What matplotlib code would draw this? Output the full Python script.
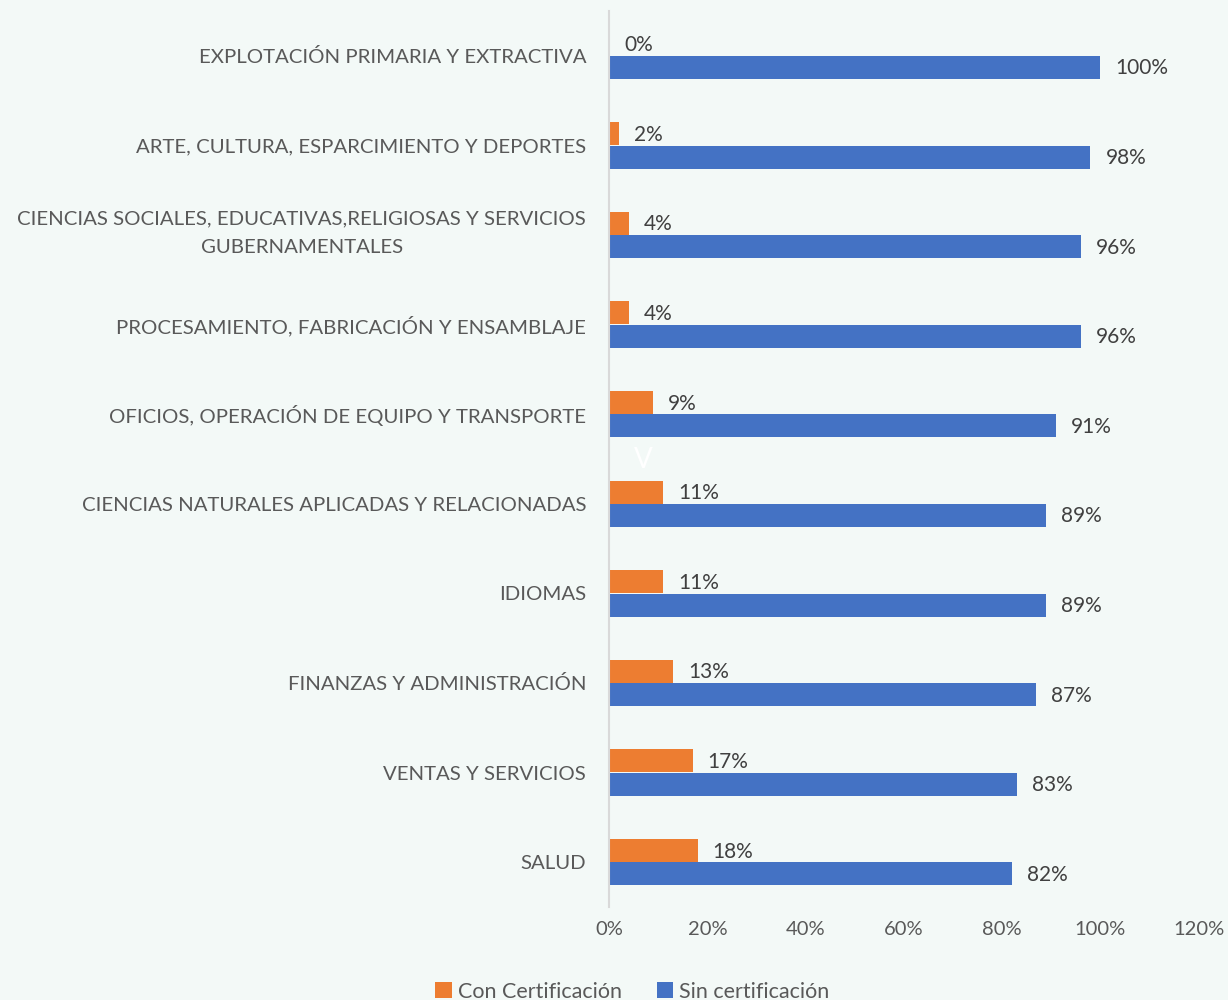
import matplotlib
matplotlib.use("Agg")
import matplotlib.pyplot as plt
import numpy as np
from matplotlib.ticker import FuncFormatter

categories = [
    "EXPLOTACIÓN PRIMARIA Y EXTRACTIVA",
    "ARTE, CULTURA, ESPARCIMIENTO Y DEPORTES",
    "CIENCIAS SOCIALES, EDUCATIVAS,RELIGIOSAS Y SERVICIOS\nGUBERNAMENTALES",
    "PROCESAMIENTO, FABRICACIÓN Y ENSAMBLAJE",
    "OFICIOS, OPERACIÓN DE EQUIPO Y TRANSPORTE",
    "CIENCIAS NATURALES APLICADAS Y RELACIONADAS",
    "IDIOMAS",
    "FINANZAS Y ADMINISTRACIÓN",
    "VENTAS Y SERVICIOS",
    "SALUD",
]
con_cert = [0, 2, 4, 4, 9, 11, 11, 13, 17, 18]
sin_cert = [100, 98, 96, 96, 91, 89, 89, 87, 83, 82]
series_names = ["Con Certificación", "Sin certificación"]
xticks = [0, 20, 40, 60, 80, 100, 120]

bg = "#F3F9F7"
orange = "#ED7D31"
blue = "#4472C4"
txt = "#595959"
font = "Lato"

fig = plt.figure(figsize=(12.28, 10), dpi=100, facecolor=bg)
ax = fig.add_axes([0.496, 0.093, 0.48, 0.896])
ax.set_facecolor(bg)

n = len(categories)
y = np.arange(n)
h = 0.255
b1 = ax.barh(y - h / 2 - 0.003, con_cert, height=h, color=orange, label=series_names[0])
b2 = ax.barh(y + h / 2 + 0.003, sin_cert, height=h, color=blue, label=series_names[1])

for bars, vals in ((b1, con_cert), (b2, sin_cert)):
    for bar, v in zip(bars, vals):
        ax.annotate(f"{v}%", (bar.get_width(), bar.get_y() + bar.get_height() / 2),
                    xytext=(15, -1), textcoords="offset pixels",
                    va="center", ha="left", fontsize=15, color="#404040", family=font)

ax.set_ylim(n - 0.5, -0.5)
ax.set_xlim(0, 120)
ax.set_yticks(y)
# single-line labels as tick labels; multi-line label drawn with a small upward shift
tick_texts = [c if "\n" not in c else "" for c in categories]
ax.set_yticklabels(tick_texts, fontsize=14.7, color=txt, family=font, ha="right")
for yi, c in zip(y, categories):
    if "\n" in c:
        ax.annotate(c, (0, yi), xytext=(-23, 2), textcoords="offset pixels",
                    ha="right", va="center", multialignment="center", linespacing=1.8,
                    fontsize=14.7, color=txt, family=font, annotation_clip=False)
ax.set_xticks(xticks)
ax.xaxis.set_major_formatter(FuncFormatter(lambda v, p: f"{int(v)}%"))
for lbl in ax.get_xticklabels():
    lbl.set_fontsize(14.5)
    lbl.set_color(txt)
    lbl.set_family(font)
ax.tick_params(axis="both", length=0)
ax.tick_params(axis="x", pad=10)
ax.tick_params(axis="y", pad=16.5)

for s in ("top", "right", "bottom"):
    ax.spines[s].set_visible(False)
ax.spines["left"].set_color("#D9D9D9")
ax.spines["left"].set_linewidth(1.5)

leg = fig.legend(handles=[b1, b2], labels=series_names, loc="lower center",
                 bbox_to_anchor=(0.515, -0.021), ncol=2, frameon=False,
                 prop={"family": font, "size": 15.5}, handlelength=0.75, handleheight=0.75,
                 handletextpad=0.3, columnspacing=1.6)
for t in leg.get_texts():
    t.set_color(txt)

fig.text(643 / 1228, 1 - 460 / 1000, "V", color="white", fontsize=20, family=font,
         ha="center", va="center")

fig.savefig("out.png", dpi=100, facecolor=bg)
